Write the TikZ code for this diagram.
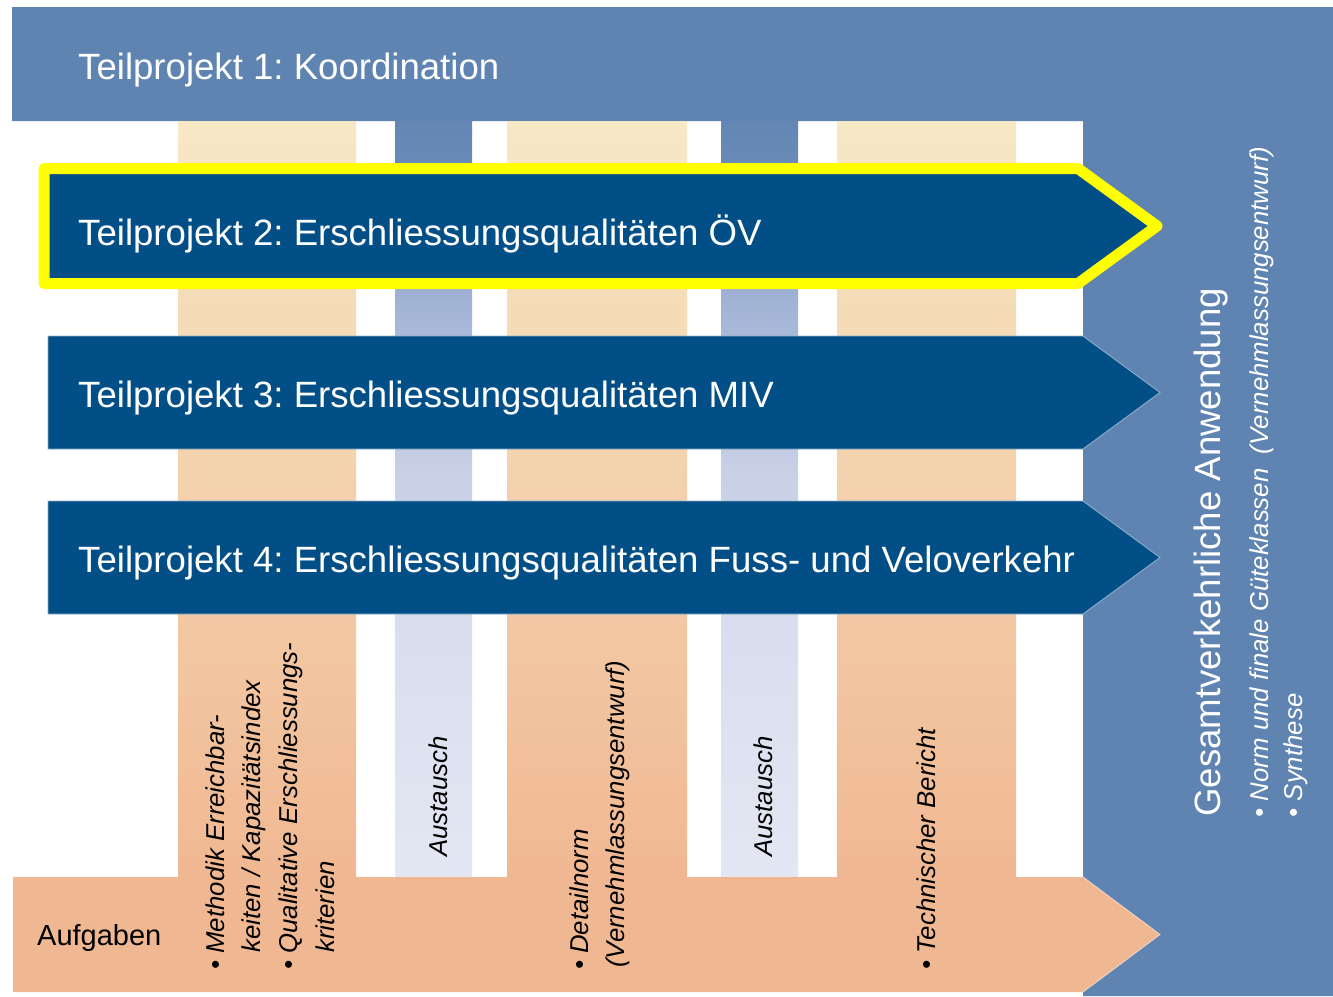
\documentclass[tikz,border=0pt]{standalone}
\usepackage{fontspec}
\setmainfont{Liberation Sans}
\frenchspacing

% palette
\definecolor{bandblue}{HTML}{5F84B2}
\definecolor{arrowblue}{HTML}{024F88}
\definecolor{hlyellow}{HTML}{FFFF00}
\definecolor{taskorange}{HTML}{F0B892}
\definecolor{tantop}{HTML}{F7E8C6}
\definecolor{xa}{HTML}{E3E7F3}
\definecolor{xb}{HTML}{D8DEEE}
\definecolor{xc}{HTML}{C8D0E6}
\definecolor{xd}{HTML}{A1B3D5}
\definecolor{xe}{HTML}{6A8BB7}
\definecolor{xf}{HTML}{6386B4}

% exchange strips: dark blue at the top, fading to a pale blue-grey
\pgfdeclareverticalshading{exchange}{100bp}{%
  color(0bp)=(xa); color(25bp)=(xa); color(42bp)=(xb); color(51.9bp)=(xc);
  color(63.2bp)=(xd); color(72.1bp)=(xe); color(75bp)=(xf); color(100bp)=(xf)}

\begin{document}
\frenchspacing
\begin{tikzpicture}[x=1pt,y=-1pt,
  title/.style={text=white, font=\fontsize{36.6}{40}\selectfont, inner sep=0pt, anchor=base west},
  note/.style={font=\itshape\fontsize{25.8}{30}\selectfont, inner sep=0pt, anchor=base west, rotate=90},
  taskstrip/.style={top color=tantop, bottom color=taskorange},
  exstrip/.style={shading=exchange},
  tparrow/.style={fill=arrowblue, draw=arrowblue!45!white, line width=0.9pt},
  hilite/.style={draw=hlyellow, line width=11pt, line join=round}]

\useasboundingbox (0,0) rectangle (1333,996);
\fill[white] (0,0) rectangle (1333,996);

% coordination frame: top band and right-hand column
\fill[bandblue] (12,7) -- (1333,7) -- (1333,996) -- (1083,996) -- (1083,121) -- (12,121) -- cycle;

% vertical task and exchange strips
\shade[taskstrip] (178,121) rectangle (356,877);
\shade[exstrip]   (395,121) rectangle (472,877);
\shade[taskstrip] (507,121) rectangle (687,877);
\shade[exstrip]   (721,121) rectangle (798,877);
\shade[taskstrip] (837,121) rectangle (1016,877);

% tasks bar at the bottom
\fill[taskorange] (13,877) -- (1083,877) -- (1160,934.5) -- (1083,992) -- (13,992) -- cycle;
\draw[white!45!taskorange, line width=0.8pt] (1083,877) -- (1160,934.5) -- (1083,992);

% sub-project arrows
\path[tparrow] (48,336) -- (1083,336) -- (1160,392.5) -- (1083,449) -- (48,449) -- cycle;
\path[tparrow] (48,501) -- (1083,501) -- (1160,557.5) -- (1083,614) -- (48,614) -- cycle;
\fill[arrowblue] (44,168.5) -- (1078,168.5) -- (1157,226) -- (1078,283.5) -- (44,283.5) -- cycle;
\draw[hilite] (44,168.5) -- (1078,168.5) -- (1157,226) -- (1078,283.5) -- (44,283.5) -- cycle;

% titles
\node[title] (tp1) at (78,79)  {Teilprojekt 1: Koordination};
\node[title] (tp2) at (78,245) {Teilprojekt 2: Erschliessungsqualitäten ÖV};
\node[title] (tp3) at (78,407) {Teilprojekt 3: Erschliessungsqualitäten MIV};
\node[title] (tp4) at (78,572) {Teilprojekt 4: Erschliessungsqualitäten Fuss- und Veloverkehr};

% overall application column
\node[title, rotate=90] (ga) at (1220,817) {Gesamtverkehrliche Anwendung};
\node[note, text=white] (ga1) at (1268,817.5) {• Norm und finale Güteklassen\ \ (Vernehmlassungsentwurf)};
\node[note, text=white] (ga2) at (1302,817.5) {• Synthese};

% task texts
\node[anchor=base west, inner sep=0pt, font=\fontsize{29}{32}\selectfont] (auf) at (37,945) {Aufgaben};
\node[note] (m1) at (224,970)   {• Methodik Erreichbar-};
\node[note] (m2) at (260.5,953) {keiten / Kapazitätsindex};
\node[note] (m3) at (297,970)   {• Qualitative Erschliessungs-};
\node[note] (m4) at (334,953)   {kriterien};
\node[note] (d1) at (588,970)   {• Detailnorm};
\node[note] (d2) at (624.5,968) {(Vernehmlassungsentwurf)};
\node[note] (t1) at (935,970)   {• Technischer Bericht};
\node[note] (a1) at (447,857)   {Austausch};
\node[note] (a2) at (772,857)   {Austausch};
\end{tikzpicture}
\end{document}
